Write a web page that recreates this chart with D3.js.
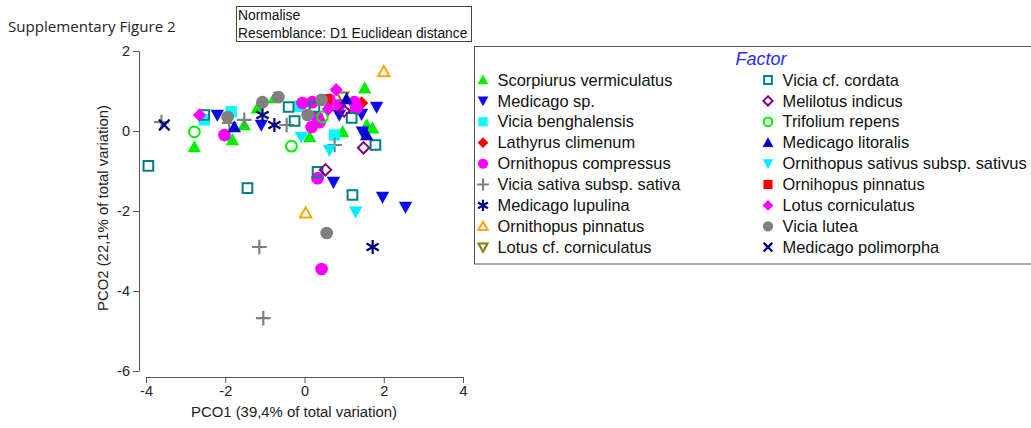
<!DOCTYPE html>
<html>
<head>
<meta charset="utf-8">
<script src="https://cdn.jsdelivr.net/npm/d3@7"></script>
<style>
    body { margin: 0; background: #fff; }
    text { font-family: "Liberation Sans", Arial, sans-serif; }
</style>
</head>
<body>
<script>
// PCO ordination plot (Supplementary Figure 2)

// Data: PCO1 / PCO2 scores per factor level
const scorpiurusVermiculatus = [[-2.78, -0.4], [-1.82, -0.22], [-1.52, 0.15], [-1.19, 0.57], [-0.76, 0.83], [0.13, -0.15], [0.96, -0.02], [1.52, 1.07], [1.57, 0.15], [1.72, 0.07]];
const medicagoSp = [[-2.2, 0.4], [-1.09, 0.15], [0.88, 0.4], [1.44, 0.42], [1.82, 0.6], [1.46, -0.02], [0.73, -1.28], [1.97, -1.65], [2.55, -1.9]];
const viciaBenghalensis = [[-2.53, 0.28], [-1.85, 0.48], [-0.13, 0.62], [0.76, -0.1]];
const lathyrusClimenum = [[1.44, 0.7]];
const ornithopusCompressus = [[-2.02, -0.1], [-0.05, 0.7], [0.2, 0.72], [0.33, 0.33], [0.18, 0.1], [0.38, 0.22], [0.63, 0.78], [1.26, 0.72], [1.31, 0.57], [0.88, 0.65], [0.33, -1.18], [0.43, -3.45]];
const viciaSativa = [[-3.61, 0.22], [-1.9, 0.2], [-1.52, 0.28], [-0.45, 0.15], [0.76, -0.35], [-1.14, -2.9], [-1.04, -4.68]];
const medicagoLupulina = [[-1.06, 0.4], [-0.76, 0.15], [1.72, -2.9]];
const ornithopusPinnatus = [[2.0, 1.48], [0.03, -2.05]];
const lotusCfCorniculatus = [[0.96, 0.85]];
const viciaCfCordata = [[-3.94, -0.87], [-2.53, 0.4], [-0.4, 0.6], [-0.25, 0.25], [0.25, 0.6], [1.19, 0.33], [1.79, -0.35], [0.33, -1.02], [-1.44, -1.43], [1.21, -1.6]];
const melilotusIndicus = [[0.53, -0.97], [1.49, -0.42], [1.0, 0.5]];
const trifoliumRepens = [[-2.78, -0.02], [-0.33, -0.38], [0.45, 0.35]];
const medicagoLitoralis = [[-1.77, 0.1], [1.06, 0.8], [1.57, -0.1]];
const ornithopusSativus = [[-0.08, -0.15], [0.63, -0.48], [1.29, -2.02]];
const ornihopusPinnatus = [[0.55, 0.78]];
const lotusCorniculatus = [[-2.65, 0.4], [0.8, 1.03], [0.6, 0.55]];
const viciaLutea = [[-1.94, 0.35], [-1.06, 0.72], [-0.66, 0.85], [0.43, 0.78], [0.08, 0.4], [0.56, -2.55]];
const medicagoPolimorpha = [[-3.54, 0.15]];

// Factor names (legend order) and the matching point lists
const factorNames = [
    "Scorpiurus vermiculatus", "Medicago sp.", "Vicia benghalensis", "Lathyrus climenum",
    "Ornithopus compressus", "Vicia sativa subsp. sativa", "Medicago lupulina", "Ornithopus pinnatus",
    "Lotus cf. corniculatus", "Vicia cf. cordata", "Melilotus indicus", "Trifolium repens",
    "Medicago litoralis", "Ornithopus sativus subsp. sativus", "Ornihopus pinnatus", "Lotus corniculatus",
    "Vicia lutea", "Medicago polimorpha"
];
const factorPoints = [
    scorpiurusVermiculatus, medicagoSp, viciaBenghalensis, lathyrusClimenum,
    ornithopusCompressus, viciaSativa, medicagoLupulina, ornithopusPinnatus,
    lotusCfCorniculatus, viciaCfCordata, melilotusIndicus, trifoliumRepens,
    medicagoLitoralis, ornithopusSativus, ornihopusPinnatus, lotusCorniculatus,
    viciaLutea, medicagoPolimorpha
];

// Axis ticks
const xTicks = [-4, -2, 0, 2, 4];
const yTicks = [-6, -4, -2, 0, 2];

// Marker styles, one per factor (shape, colour)
const factorStyles = [
    { shape: "triUp", fill: true, color: "#00ee00" },
    { shape: "triDown", fill: true, color: "#0a0aee" },
    { shape: "square", fill: true, color: "#00ffff" },
    { shape: "diamond", fill: true, color: "#ff0000" },
    { shape: "circle", fill: true, color: "#ff00ff" },
    { shape: "plus", fill: false, color: "#808080" },
    { shape: "asterisk", fill: false, color: "#000080" },
    { shape: "triUp", fill: false, color: "#ffa500" },
    { shape: "triDown", fill: false, color: "#808000" },
    { shape: "square", fill: false, color: "#008080" },
    { shape: "diamond", fill: false, color: "#800080" },
    { shape: "circle", fill: false, color: "#00ee00" },
    { shape: "triUp", fill: true, color: "#0000cc" },
    { shape: "triDown", fill: true, color: "#00eeff" },
    { shape: "square", fill: true, color: "#ff0000" },
    { shape: "diamond", fill: true, color: "#ff00ff" },
    { shape: "circle", fill: true, color: "#808080" },
    { shape: "times", fill: false, color: "#000080" }
];

// path for one marker, s = half size
function markerPath(shape, s) {
    switch (shape) {
        case "triUp": return `M0,${-s}L${s},${s * 0.8}L${-s},${s * 0.8}Z`;
        case "triDown": return `M0,${s}L${s},${-s * 0.8}L${-s},${-s * 0.8}Z`;
        case "square": return `M${-s * 0.85},${-s * 0.85}H${s * 0.85}V${s * 0.85}H${-s * 0.85}Z`;
        case "diamond": return `M0,${-s}L${s},0L0,${s}L${-s},0Z`;
        case "circle": return `M${s * 0.95},0A${s * 0.95},${s * 0.95} 0 1,1 ${-s * 0.95},0A${s * 0.95},${s * 0.95} 0 1,1 ${s * 0.95},0Z`;
        case "plus": return `M${-s * 1.1},0H${s * 1.1}M0,${-s * 1.1}V${s * 1.1}`;
        case "asterisk": {
            const a = s * 1.05, c = a * Math.cos(Math.PI / 6), h = a * 0.5;
            return `M0,${-a}V${a}M${-c},${-h}L${c},${h}M${-c},${h}L${c},${-h}`;
        }
        case "times": return `M${-s * 0.8},${-s * 0.8}L${s * 0.8},${s * 0.8}M${-s * 0.8},${s * 0.8}L${s * 0.8},${-s * 0.8}`;
    }
}

function drawMarker(sel, style, s) {
    const open = !style.fill;
    const strokeOnly = style.shape === "plus" || style.shape === "asterisk" || style.shape === "times";
    sel.attr("d", markerPath(style.shape, open && !strokeOnly ? s * 0.85 : s))
        .attr("fill", open ? "none" : style.color)
        .attr("stroke", open ? style.color : "none")
        .attr("stroke-width", strokeOnly ? 2.2 : 2);
}

const width = 1031;
const height = 428;

const svg = d3.create("svg")
    .attr("width", width)
    .attr("height", height);

// scales
const xscale = d3.scaleLinear().domain([-4, 4]).range([146, 463]);
const yscale = d3.scaleLinear().domain([-6, 2]).range([371, 51]);

// figure title
svg.append("text")
    .attr("x", 8).attr("y", 32)
    .style("font-family", "'Open Sans', sans-serif")
    .style("font-size", "15.1px")
    .attr("fill", "#222")
    .text("Supplementary Figure 2");

// small info box
svg.append("rect")
    .attr("x", 236.5).attr("y", 6.5).attr("width", 235).attr("height", 35)
    .attr("fill", "#fff").attr("stroke", "#444");
svg.append("text").attr("x", 238).attr("y", 20).style("font-size", "13.8px").attr("fill", "#111").text("Normalise");
svg.append("text").attr("x", 238).attr("y", 37.5).style("font-size", "13.8px").attr("fill", "#111").text("Resemblance: D1 Euclidean distance");

// axes
const yAxis = svg.append("g")
    .attr("transform", "translate(139,0)")
    .call(d3.axisLeft(yscale).tickValues(yTicks).tickSize(6).tickSizeOuter(0).tickFormat(d => String(d)));
const xAxis = svg.append("g")
    .attr("transform", "translate(0,377)")
    .call(d3.axisBottom(xscale).tickValues(xTicks).tickSize(6).tickSizeOuter(0).tickFormat(d => String(d)));
for (const ax of [xAxis, yAxis]) {
    ax.selectAll("path, line").attr("stroke", "#555");
    ax.selectAll("text").style("font-size", "14.5px").attr("fill", "#222").style("font-family", "'Liberation Sans', Arial, sans-serif");
}

// axis titles
svg.append("text")
    .attr("x", 294).attr("y", 417)
    .attr("text-anchor", "middle")
    .style("font-size", "14.9px").attr("fill", "#222")
    .text("PCO1 (39,4% of total variation)");
svg.append("text")
    .attr("transform", "translate(108,208) rotate(-90)")
    .attr("text-anchor", "middle")
    .style("font-size", "14.9px").attr("fill", "#222")
    .text("PCO2 (22,1% of total variation)");

// points
const pts = svg.append("g");
factorPoints.forEach((list, i) => {
    pts.selectAll(null)
        .data(list)
        .join("path")
        .attr("transform", d => `translate(${xscale(d[0])},${yscale(d[1])})`)
        .call(drawMarker, factorStyles[i], 6.7);
});

// legend
const legend = svg.append("g");
legend.append("rect")
    .attr("x", 474.5).attr("y", 46.5).attr("width", 600).attr("height", 217.5)
    .attr("fill", "none").attr("stroke", "#555");
legend.append("text")
    .attr("x", 761).attr("y", 65)
    .attr("text-anchor", "middle")
    .style("font-size", "18px").style("font-style", "italic")
    .attr("fill", "#2a2aff")
    .text("Factor");

factorNames.forEach((name, i) => {
    const col = i < 9 ? 0 : 1;
    const row = i % 9;
    const cy = 80 + row * 20.9;
    const sx = col === 0 ? 483 : 768;
    legend.append("path")
        .attr("transform", `translate(${sx},${cy})`)
        .call(drawMarker, factorStyles[i], 5.4);
    legend.append("text")
        .attr("x", sx + 14.5).attr("y", cy + 5.6)
        .style("font-size", "16.4px").attr("fill", "#111")
        .text(name);
});

document.body.append(svg.node());
</script>
</body>
</html>
